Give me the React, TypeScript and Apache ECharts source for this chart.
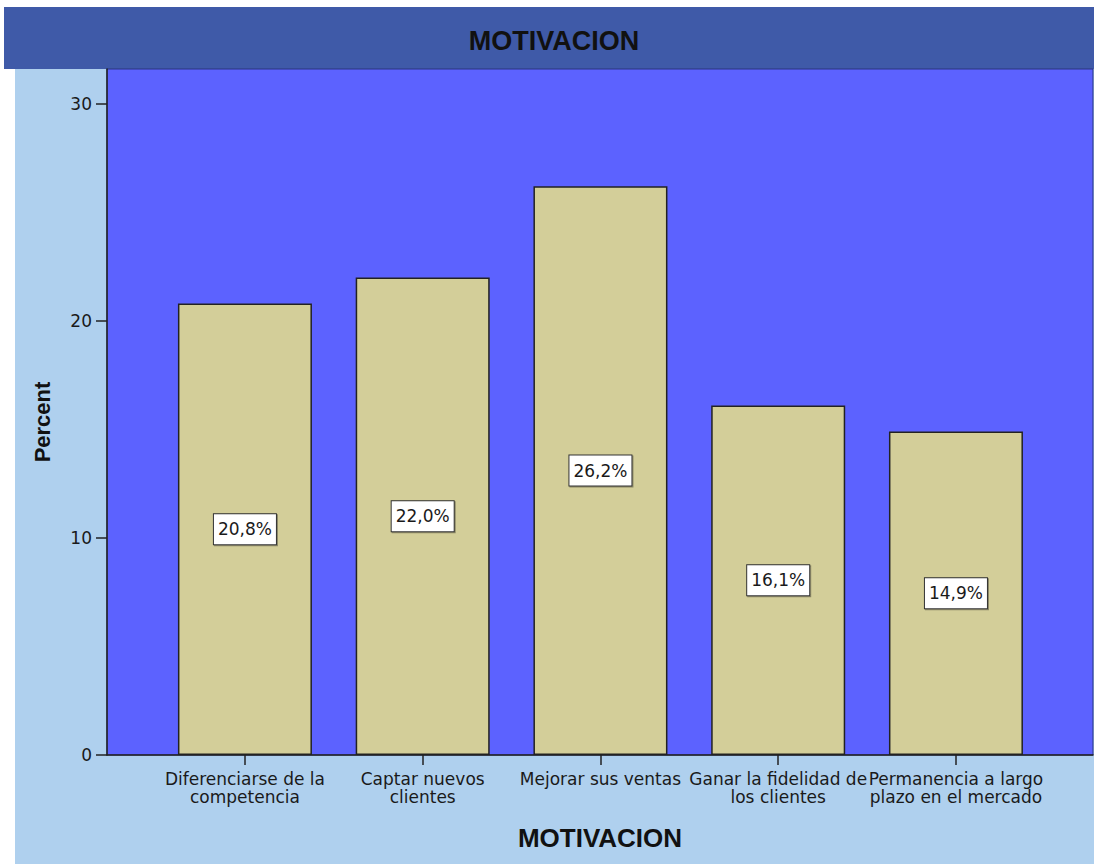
import React, { useEffect, useRef } from "react";
import * as echarts from "echarts";

const chartTitle = "MOTIVACION";
const xAxisTitle = "MOTIVACION";
const yAxisTitle = "Percent";
const categories = [
  "Diferenciarse de la\ncompetencia",
  "Captar nuevos\nclientes",
  "Mejorar sus ventas",
  "Ganar la fidelidad de\nlos clientes",
  "Permanencia a largo\nplazo en el mercado",
];
const percentValues = [20.8, 22.0, 26.2, 16.1, 14.9];
const yTickValues = [0, 10, 20, 30];

const FONT = "'DejaVu Sans', Verdana, sans-serif";
const BOLD_FONT = "'Liberation Sans', Arial, sans-serif";

export default function App() {
  const ref = useRef<HTMLDivElement>(null);

  useEffect(() => {
    if (!ref.current) return;
    const chart = echarts.init(ref.current, null, { renderer: "svg" });
    const catIdx = categories.map((_, i) => i);
    const option = {
      animation: false,
      backgroundColor: "#ffffff",
      textStyle: { fontFamily: FONT },
      graphic: [
        {
          type: "rect",
          z: -10,
          silent: true,
          shape: { x: 15, y: 7, width: 1079, height: 857 },
          style: { fill: "#AFD0EE" },
        },
        {
          type: "rect",
          z: -9,
          silent: true,
          shape: { x: 4, y: 7, width: 1090, height: 62 },
          style: { fill: "#3F5AA8" },
        },
      ],
      title: {
        text: chartTitle,
        left: 554,
        top: 27,
        padding: 0,
        textAlign: "center",
        textStyle: { fontFamily: BOLD_FONT, fontSize: 27, fontWeight: "bold", color: "#111" },
      },
      grid: {
        left: 107,
        right: 1,
        top: 69,
        bottom: 109,
        show: true,
        backgroundColor: "#5C62FF",
        borderColor: "#2A3580",
        borderWidth: 1,
        containLabel: false,
      },
      xAxis: {
        type: "value",
        min: -0.776,
        max: 4.771,
        splitLine: { show: false },
        axisLine: { show: true, onZero: false, lineStyle: { color: "#222", width: 1.5 } },
        axisTick: {
          show: true,
          customValues: catIdx,
          length: 10,
          lineStyle: { color: "#222", width: 1.5 },
        },
        axisLabel: {
          customValues: catIdx,
          formatter: (v: number) => categories[Math.round(v)] ?? "",
          fontFamily: FONT,
          fontSize: 17,
          lineHeight: 18,
          color: "#1a1a1a",
          margin: 15,
          align: "center",
        },
        name: xAxisTitle,
        nameLocation: "middle",
        nameGap: 70,
        nameTextStyle: { fontFamily: BOLD_FONT, fontSize: 26, fontWeight: "bold", color: "#111" },
      },
      yAxis: {
        type: "value",
        min: 0,
        max: 31.6,
        splitLine: { show: false },
        axisLine: { show: true, onZero: false, lineStyle: { color: "#222", width: 1.5 } },
        axisTick: {
          show: true,
          customValues: yTickValues,
          length: 11,
          lineStyle: { color: "#222", width: 1.5 },
        },
        axisLabel: {
          customValues: yTickValues,
          fontFamily: FONT,
          fontSize: 17,
          color: "#1a1a1a",
          margin: 15,
        },
        name: yAxisTitle,
        nameLocation: "middle",
        nameGap: 54,
        nameRotate: 90,
        nameTextStyle: {
          fontFamily: BOLD_FONT,
          fontSize: 22,
          fontWeight: "bold",
          color: "#111",
          padding: [0, 20, 0, 0],
        },
      },
      series: [
        {
          type: "bar",
          barWidth: 134,
          data: percentValues.map((v, i) => [i, v]),
          itemStyle: { color: "#D3CE99", borderColor: "#222", borderWidth: 1.5 },
          label: {
            show: true,
            position: "inside",
            formatter: (p: any) => p.value[1].toFixed(1).replace(".", ",") + "%",
            fontFamily: FONT,
            fontSize: 17,
            lineHeight: 18,
            color: "#1a1a1a",
            backgroundColor: "#ffffff",
            borderColor: "#333",
            borderWidth: 1,
            padding: [6, 4, 6, 4],
            shadowColor: "rgba(0,0,0,0.35)",
            shadowOffsetX: 1,
            shadowOffsetY: 1,
            shadowBlur: 0,
          },
        },
      ],
    };
    chart.setOption(option as any);
    return () => chart.dispose();
  }, []);

  return (
    <div
      ref={ref}
      style={{ position: "absolute", left: 0, top: 0, width: 1094, height: 864 }}
    />
  );
}
